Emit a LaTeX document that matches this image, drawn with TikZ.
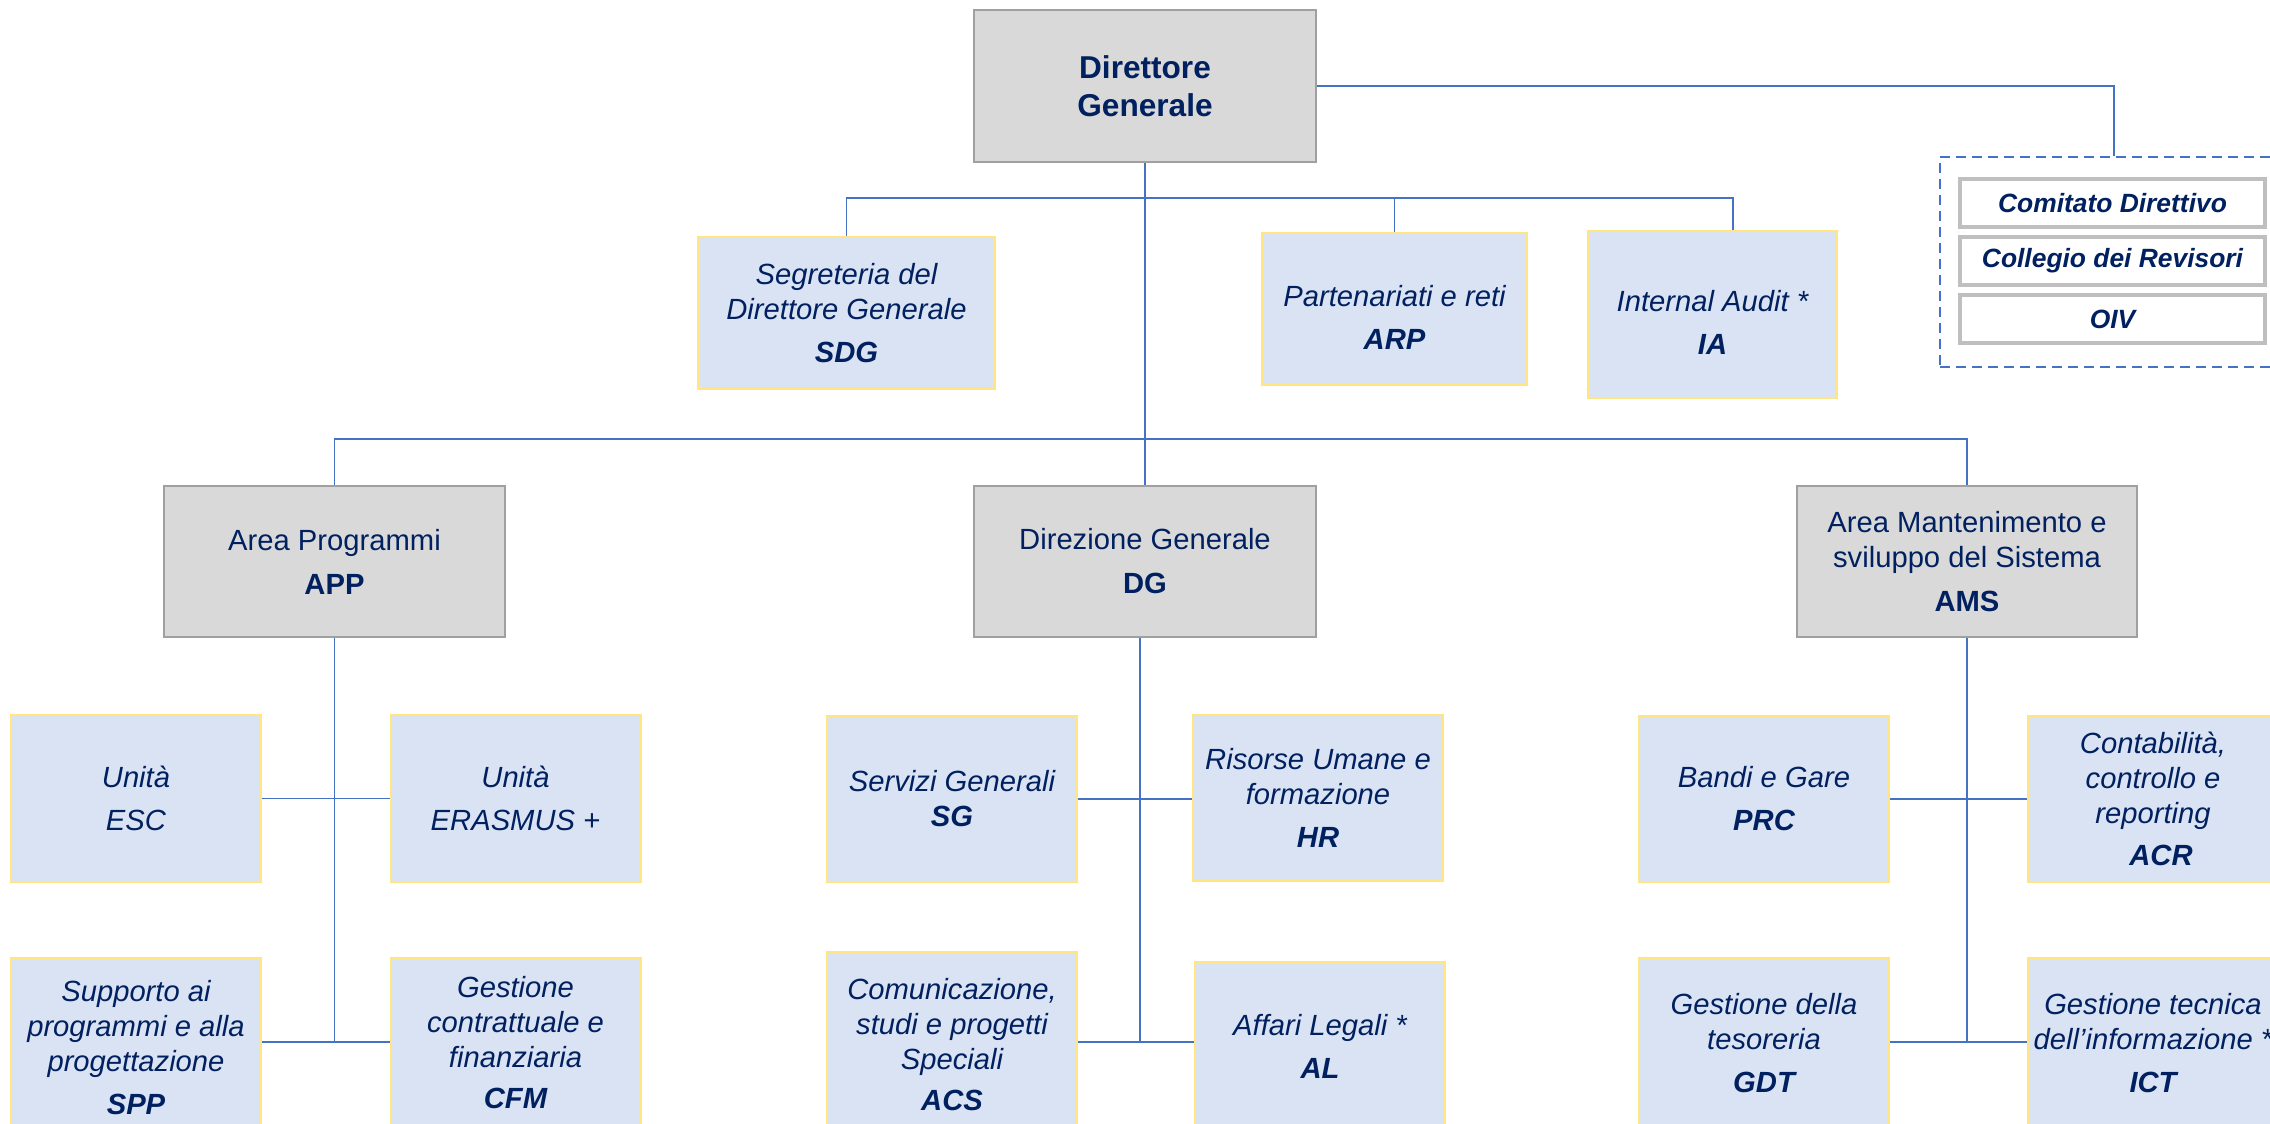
\documentclass[tikz,border=0pt]{standalone}
\usepackage{fontspec}
\setmainfont{Liberation Sans}
\usetikzlibrary{calc}
\definecolor{navy}{HTML}{002060}
\definecolor{linkblue}{HTML}{4472C4}
\definecolor{unitfill}{HTML}{DAE3F3}
\definecolor{unitborder}{HTML}{FFE680}
\definecolor{headfill}{HTML}{D9D9D9}
\definecolor{headborder}{HTML}{A0A0A0}
\definecolor{boardborder}{HTML}{BFBFBF}
\tikzset{
  txt/.style={text=navy, align=center, inner sep=1pt, font=\fontsize{14.6}{17.5}\selectfont},
  unitbox/.style={txt, draw=unitborder, fill=unitfill, line width=1pt, font=\fontsize{14.6}{17.5}\selectfont\itshape, minimum width=125pt},
  headbox/.style={txt, draw=headborder, fill=headfill, line width=1pt},
  boardbox/.style={txt, draw=boardborder, fill=white, line width=2pt, font=\fontsize{13.2}{16}\selectfont\bfseries\itshape, minimum width=152.5pt, minimum height=24pt},
  groupbox/.style={draw=linkblue, line width=0.75pt, dash pattern=on 5pt off 3pt, minimum width=174pt, minimum height=105pt, inner sep=0pt},
  link/.style={draw=linkblue, line width=0.75pt},
}
\begin{document}
\begin{tikzpicture}[x=0.5pt,y=-0.5pt]
\useasboundingbox (0,0) rectangle (2270,1124);
\clip (0,0) rectangle (2270,1124);
\fill[white] (0,0) rectangle (2270,1124);

% top
\node[headbox, minimum width=171pt, minimum height=76pt, font=\fontsize{15.8}{19}\selectfont\bfseries] (dirgen) at (1145,86) {Direttore\\Generale};

% board group
\node[groupbox] (organi) at (2114,262) {};
\node[boardbox] (comitato) at (2112.5,203) {Comitato Direttivo};
\node[boardbox] (collegio) at (2112.5,261) {Collegio dei Revisori};
\node[boardbox] (oiv) at (2112.5,319) {OIV};

% staff
\node[unitbox, minimum width=148.5pt, minimum height=76pt] (sdg) at (846.5,313) {Segreteria del\\Direttore Generale\\[4pt]\textbf{SDG}};
\node[unitbox, minimum width=132.5pt, minimum height=76pt] (arp) at (1394.5,309) {\rule{0pt}{18.5pt}Partenariati e reti\\[4pt]\textbf{ARP}};
\node[unitbox, minimum width=124.5pt, minimum height=83.5pt] (ia) at (1712.5,314.5) {\rule{0pt}{18.5pt}Internal Audit *\\[4pt]\textbf{IA}};

% areas
\node[headbox, minimum width=170.5pt, minimum height=75.5pt] (app) at (334.5,561.5) {Area Programmi\\[4.5pt]\textbf{APP}};
\node[headbox, minimum width=171pt, minimum height=75.5pt] (dg) at (1145,561.5) {Direzione Generale\\[4.5pt]\textbf{DG}};
\node[headbox, minimum width=170pt, minimum height=75.5pt] (ams) at (1967,561.5) {Area Mantenimento e\\sviluppo del Sistema\\[4.5pt]\textbf{AMS}};

% APP units
\node[unitbox, minimum height=83.5pt] (esc) at (136,798.5) {Unità\\[4pt]ESC};
\node[unitbox, minimum height=83.5pt] (erasmus) at (515.5,798.5) {Unità\\[4pt]ERASMUS +};
\node[unitbox, minimum height=90pt] (spp) at (136,1048) {Supporto ai\\programmi e alla\\progettazione\\[4pt]\textbf{SPP}};
\node[unitbox, minimum height=85pt] (cfm) at (515.5,1043) {Gestione\\contrattuale e\\finanziaria\\[3pt]\textbf{CFM}};

% DG units
\node[unitbox, minimum height=83pt] (sg) at (952,799) {Servizi Generali\\\textbf{SG}};
\node[unitbox, minimum height=83pt] (hr) at (1318,798) {Risorse Umane e\\formazione\\[4pt]\textbf{HR}};
\node[unitbox, minimum height=92.5pt] (acs) at (952,1044.5) {Comunicazione,\\studi e progetti\\Speciali\\[3pt]\textbf{ACS}};
\node[unitbox, minimum height=84.5pt] (al) at (1320,1046.5) {Affari Legali *\\[4pt]\textbf{AL}};

% AMS units
\node[unitbox, minimum height=83pt] (prc) at (1764,799) {Bandi e Gare\\[4pt]\textbf{PRC}};
\node[unitbox, minimum height=83pt] (acr) at (2153,799) {Contabilità,\\controllo e\\reporting\\[3.5pt]\hspace*{8pt}\textbf{ACR}};
\node[unitbox, minimum height=85pt] (gdt) at (1764,1043) {Gestione della\\tesoreria\\[4pt]\textbf{GDT}};
\node[unitbox, minimum height=85pt] (ict) at (2153,1043) {Gestione tecnica\\dell’informazione *\\[4pt]\textbf{ICT}};

% connectors
\draw[link] (dirgen.east) -| (organi.north);
\draw[link] (dirgen.south) -- (dg.north);
\coordinate (bus1) at (1145,198);
\draw[link] (sdg.north) |- (bus1);
\draw[link] (bus1) -| (arp.north);
\draw[link] (bus1) -| ($(ia.north)+(20.5,0)$);
\coordinate (bus2) at (1145,439);
\draw[link] (app.north) |- (bus2) -| (ams.north);

\coordinate (append) at (334.5,1042);
\draw[link] (app.south) -- (append);
\draw[link] (esc.east) -- (erasmus.west);
\draw[link] (spp.east |- append) -- (cfm.west |- append);

\coordinate (dgend) at (1140,1042);
\draw[link] (dg.south -| dgend) -- (dgend);
\draw[link] (sg.east) -- (hr.west |- sg.east);
\draw[link] (acs.east |- dgend) -- (al.west |- dgend);

\coordinate (amsend) at (1967,1042);
\draw[link] (ams.south) -- (amsend);
\draw[link] (prc.east) -- (acr.west |- prc.east);
\draw[link] (gdt.east |- amsend) -- (ict.west |- amsend);
\end{tikzpicture}
\end{document}
